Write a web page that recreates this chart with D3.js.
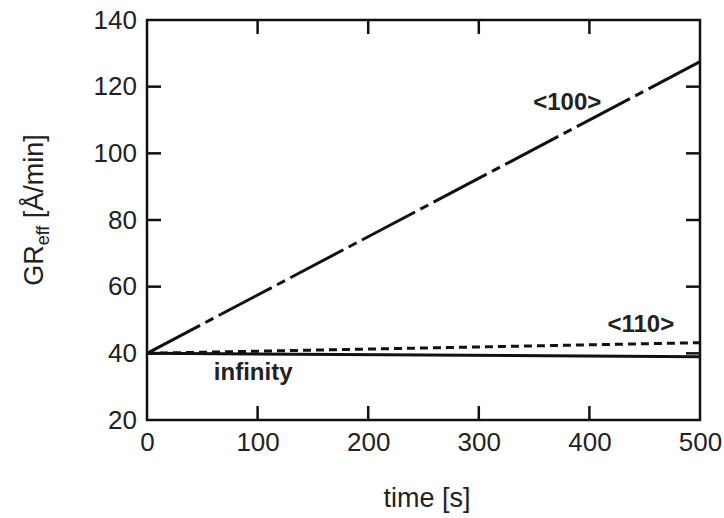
<!DOCTYPE html>
<html>
<head>
<meta charset="utf-8">
<script src="https://cdn.jsdelivr.net/npm/d3@7"></script>
<style>
  html, body { margin: 0; padding: 0; background: #fff; }
  svg { display: block; }
  text { font-family: "Liberation Sans", Arial, Helvetica, sans-serif; fill: #222; }
</style>
</head>
<body>
<svg id="chart" width="724" height="518"></svg>
<script>
// ---- data ----
const xTicks = [0, 100, 200, 300, 400, 500];
const yTicks = [20, 40, 60, 80, 100, 120, 140];
const seriesNames = ["<100>", "<110>", "infinity"];
const timeS = [0, 500];
const gr100 = [40, 127.5];
const gr110 = [40, 43.2];
const grInf = [40, 39.0];

(function () {
// ---- layout ----
const W = 724, H = 518;
const m = { left: 147, right: 24, top: 20, bottom: 98 };
const svg = d3.select("#chart");
const x = d3.scaleLinear().domain([0, 500]).range([m.left, W - m.right]);
const y = d3.scaleLinear().domain([20, 140]).range([H - m.bottom, m.top]);
const TL = 14;

// frame
svg.append("rect")
  .attr("x", x(0)).attr("y", y(140))
  .attr("width", x(500) - x(0)).attr("height", y(20) - y(140))
  .attr("fill", "none").attr("stroke", "#111").attr("stroke-width", 2.5);

// axes labels via d3 axes (tick lines hidden, drawn manually below)
const fmt = d3.format("d");
const axB = svg.append("g").attr("transform", `translate(0,${y(20)})`)
  .call(d3.axisBottom(x).tickValues(xTicks).tickSize(0).tickPadding(13).tickFormat(fmt));
const axL = svg.append("g").attr("transform", `translate(${x(0)},0)`)
  .call(d3.axisLeft(y).tickValues(yTicks).tickSize(0).tickPadding(10).tickFormat(fmt));
[axB, axL].forEach(g => {
  g.select(".domain").remove();
  g.selectAll(".tick text").attr("font-size", 26).attr("fill", "#222")
    .style("font-family", '"Liberation Sans", Arial, sans-serif');
});

// inward ticks on all four sides
const tk = svg.append("g").attr("stroke", "#111").attr("stroke-width", 2.5);
xTicks.slice(1, -1).forEach(v => {
  tk.append("line").attr("x1", x(v)).attr("x2", x(v)).attr("y1", y(20)).attr("y2", y(20) - TL);
  tk.append("line").attr("x1", x(v)).attr("x2", x(v)).attr("y1", y(140)).attr("y2", y(140) + TL);
});
yTicks.slice(1, -1).forEach(v => {
  tk.append("line").attr("x1", x(0)).attr("x2", x(0) + TL).attr("y1", y(v)).attr("y2", y(v));
  tk.append("line").attr("x1", x(500)).attr("x2", x(500) - TL).attr("y1", y(v)).attr("y2", y(v));
});

// lines
const line = d3.line().x(d => x(d[0])).y(d => y(d[1]));
const mk = vals => timeS.map((t, i) => [t, vals[i]]);

svg.append("path").datum(mk(grInf)).attr("d", line)
  .attr("fill", "none").attr("stroke", "#111").attr("stroke-width", 3);
svg.append("path").datum(mk(gr110)).attr("d", line)
  .attr("fill", "none").attr("stroke", "#111").attr("stroke-width", 3)
  .attr("stroke-dasharray", "8,5");
svg.append("path").datum(mk(gr100)).attr("d", line)
  .attr("fill", "none").attr("stroke", "#111").attr("stroke-width", 3)
  .attr("stroke-dasharray", "60,6,9,6");

// series labels
const lab = (txt, xv, yv) => svg.append("text").text(txt)
  .attr("x", x(xv)).attr("y", y(yv)).attr("text-anchor", "middle")
  .attr("font-size", 24).attr("font-weight", "bold");
lab(seriesNames[0], 380, 113);
lab(seriesNames[1], 446.5, 46.4);
lab(seriesNames[2], 96, 32);

// axis titles
svg.append("text").attr("x", 427).attr("y", 507).attr("text-anchor", "middle")
  .attr("font-size", 27).text("time [s]");
const yl = svg.append("text").attr("transform", "translate(43,210) rotate(-90)")
  .attr("text-anchor", "middle").attr("font-size", 27);
yl.append("tspan").text("GR");
yl.append("tspan").attr("font-size", 18).attr("dy", 6).text("eff");
yl.append("tspan").attr("dy", -6).text(" [Å/min]");
})();
</script>
</body>
</html>
